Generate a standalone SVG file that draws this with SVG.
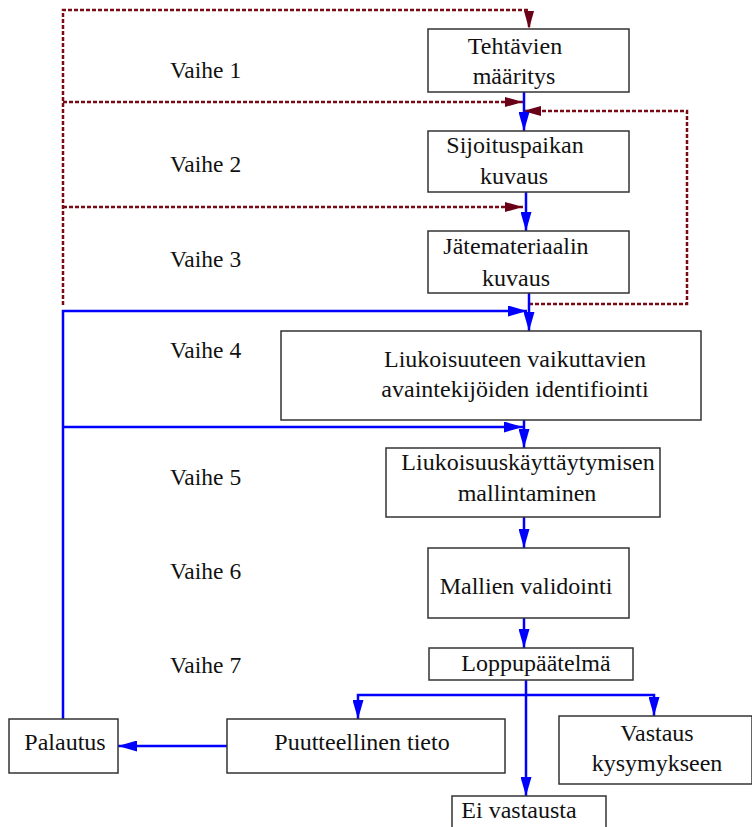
<svg xmlns="http://www.w3.org/2000/svg" width="752" height="827" viewBox="0 0 752 827">
<style>
.box{fill:#fff;stroke:#333;stroke-width:1.5}
.b{fill:none;stroke:#0000ff;stroke-width:2.5}
.d{fill:none;stroke:#7a0a14;stroke-width:2.5;stroke-dasharray:4 2}
</style>
<defs>
<marker id="ab" viewBox="0 0 19 11" refX="19" refY="5.5" markerWidth="19" markerHeight="11" markerUnits="userSpaceOnUse" orient="auto"><path d="M0,0 L19,5.5 L0,11 z" fill="#0000ff"/></marker>
<marker id="ad" viewBox="0 0 18 10" refX="18" refY="5" markerWidth="18" markerHeight="10" markerUnits="userSpaceOnUse" orient="auto"><path d="M0,0 L18,5 L0,10 z" fill="#6a0018"/></marker>
</defs>
<rect width="752" height="827" fill="#fff"/>
<g id="labels" font-family="Liberation Serif" font-size="23.5" fill="#111">
<text x="170" y="78">Vaihe 1</text>
<text x="170" y="172">Vaihe 2</text>
<text x="170" y="267">Vaihe 3</text>
<text x="170" y="358">Vaihe 4</text>
<text x="170" y="485">Vaihe 5</text>
<text x="170" y="579">Vaihe 6</text>
<text x="170" y="673">Vaihe 7</text>
</g>
<g id="connectors">
<path class="d" d="M63,305 V10 H529 V29" marker-end="url(#ad)"/>
<path class="d" d="M63,102 H523" marker-end="url(#ad)"/>
<path class="d" d="M63,207 H523" marker-end="url(#ad)"/>
<path class="d" d="M529,304 H687 V111 H523" marker-end="url(#ad)"/>
<path class="b" d="M524,92 V131" marker-end="url(#ab)"/>
<path class="b" d="M526,192 V231" marker-end="url(#ab)"/>
<path class="b" d="M529,293 V331" marker-end="url(#ab)"/>
<path class="b" d="M63,719 V311 H527" marker-end="url(#ab)"/>
<path class="b" d="M63,427 H523" marker-end="url(#ab)"/>
<path class="b" d="M524,420 V448" marker-end="url(#ab)"/>
<path class="b" d="M524,517 V548" marker-end="url(#ab)"/>
<path class="b" d="M524,618 V648" marker-end="url(#ab)"/>
<path class="b" d="M526,680 V796" marker-end="url(#ab)"/>
<path class="b" d="M526,695 H358 V719" marker-end="url(#ab)"/>
<path class="b" d="M526,695 H654 V716" marker-end="url(#ab)"/>
<path class="b" d="M227,746 H118" marker-end="url(#ab)"/>
</g>
<g id="nodes" font-family="Liberation Serif" font-size="24" fill="#111" text-anchor="middle">
<g id="n1"><rect class="box" x="428" y="29" width="201" height="63"/><text x="515" y="54">Tehtävien</text><text x="514" y="84">määritys</text></g>
<g id="n2"><rect class="box" x="428" y="131" width="201" height="61"/><text x="515" y="153">Sijoituspaikan</text><text x="514" y="184">kuvaus</text></g>
<g id="n3"><rect class="box" x="428" y="231" width="201" height="62"/><text x="516" y="254">Jätemateriaalin</text><text x="516" y="286">kuvaus</text></g>
<g id="n4"><rect class="box" x="281" y="331" width="420" height="89"/><text x="515" y="367">Liukoisuuteen vaikuttavien</text><text x="515" y="397">avaintekijöiden identifiointi</text></g>
<g id="n5"><rect class="box" x="386" y="448" width="274" height="69"/><text x="528" y="470">Liukoisuuskäyttäytymisen</text><text x="527" y="501">mallintaminen</text></g>
<g id="n6"><rect class="box" x="428" y="548" width="201" height="70"/><text x="526" y="594">Mallien validointi</text></g>
<g id="n7"><rect class="box" x="429" y="648" width="204" height="32"/><text x="536" y="671">Loppupäätelmä</text></g>
<g id="n8"><rect class="box" x="227" y="719" width="278" height="54"/><text x="362" y="750">Puutteellinen tieto</text></g>
<g id="n9"><rect class="box" x="9" y="719" width="109" height="54"/><text x="65" y="750">Palautus</text></g>
<g id="n10"><rect class="box" x="559" y="716" width="193" height="68"/><text x="657" y="741">Vastaus</text><text x="657" y="771">kysymykseen</text></g>
<g id="n11"><rect class="box" x="452" y="796" width="154" height="40"/><text x="519" y="818">Ei vastausta</text></g>
</g>
</svg>
